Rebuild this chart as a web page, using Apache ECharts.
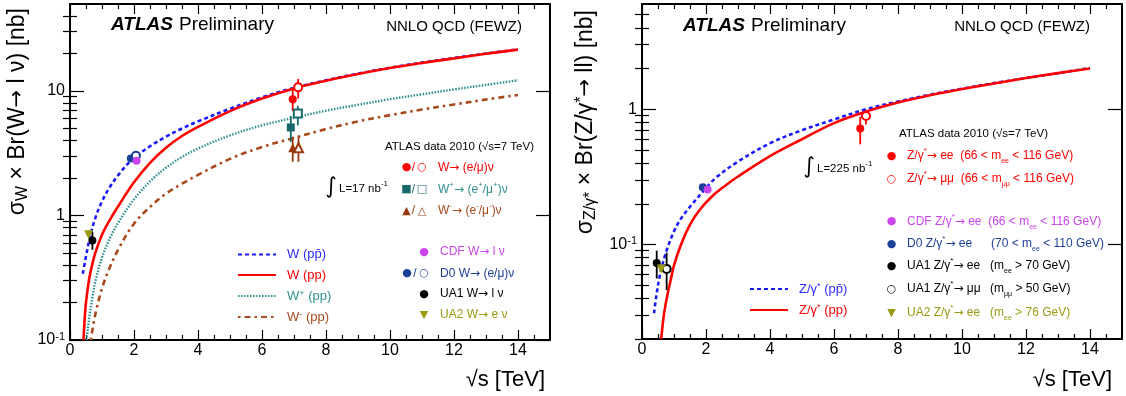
<!DOCTYPE html>
<html><head><meta charset="utf-8">
<script src="https://cdn.jsdelivr.net/npm/echarts@6/dist/echarts.min.js"></script>
<style>html,body{margin:0;padding:0;background:#fff}#c{width:1126px;height:396px}</style>
</head><body><div id="c"></div>
<script>
const FONT = '"Liberation Sans", Arial, Helvetica, sans-serif';
const MFONT = '"DejaVu Sans", sans-serif';

// ---------- Left panel: W cross sections (nb) vs sqrt(s) (TeV) ----------
const wPpbarRootS = [0.4,0.5,0.63,0.8,1.0,1.2,1.5,1.96,2.5,3.0,3.5,4.0,5.0,6.0,7.0,8,9,10,11,12,13,14];
const wPpbarSigma = [0.34,0.47,0.68,0.97,1.3,1.62,2.1,2.85,3.6,4.3,5.0,5.7,7.2,8.9,10.6,12.2,13.8,15.4,16.9,18.4,20.0,21.6];
const wPpRootS = [0.42,0.46,0.5,0.6,0.7,0.8,1.0,1.2,1.5,2.0,2.5,3.0,3.5,4.0,5.0,6.0,7.0,8,9,10,11,12,13,14];
const wPpSigma = [0.1,0.15,0.2,0.31,0.41,0.51,0.7,0.88,1.18,1.85,2.65,3.5,4.35,5.15,6.9,8.7,10.5,12.1,13.7,15.3,16.8,18.3,19.9,21.5];
const wPlusRootS = [0.52,0.56,0.6,0.7,0.8,1.0,1.25,1.5,2.0,2.5,3.0,3.5,4.0,5.0,6.0,7.0,8,9,10,11,12,13,14];
const wPlusSigma = [0.1,0.125,0.15,0.22,0.3,0.46,0.66,0.87,1.35,1.88,2.42,2.95,3.45,4.4,5.3,6.1,6.95,7.75,8.6,9.4,10.3,11.2,12.2];
const wMinusRootS = [0.65,0.7,0.75,0.83,1.0,1.2,1.5,2.0,2.5,3.0,3.5,4.0,5.0,6.0,7.0,8,9,10,11,12,13,14];
const wMinusSigma = [0.1,0.12,0.142,0.178,0.26,0.36,0.53,0.86,1.17,1.5,1.8,2.12,2.85,3.55,4.2,4.95,5.7,6.4,7.1,7.8,8.55,9.3];

// measurements: [sqrt(s), sigma, low, high]
const atlasWe   = [[6.96, 8.6, 6.9, 10.5]];
const atlasWmu  = [[7.13, 10.7, 8.7, 12.5]];
const atlasWpE  = [[6.9, 5.1, 3.9, 6.3]];
const atlasWpMu = [[7.12, 6.6, 5.3, 7.6]];
const atlasWmE  = [[6.96, 3.5, 2.7, 4.3]];
const atlasWmMu = [[7.14, 3.5, 2.7, 4.3]];
const cdfW   = [[2.08, 2.75]];
const d0We   = [[1.9, 2.87]];
const d0Wmu  = [[2.06, 3.02, 2.9, 3.15]];
const ua1W   = [[0.7, 0.63, 0.53, 0.74]];
const ua2W   = [[0.58, 0.70]];

// ---------- Right panel: Z/gamma* cross sections (nb) ----------
const zPpbarRootS = [0.375,0.45,0.575,0.7,0.8,1.0,1.2,1.5,1.9,2.3,3,4,5,6,7,8,9,10,11,12,13,14];
const zPpbarSigma = [0.031,0.042,0.062,0.08,0.095,0.125,0.153,0.19,0.245,0.31,0.41,0.56,0.7,0.84,1.0,1.14,1.28,1.42,1.56,1.7,1.85,2.02];
const zPpRootS = [0.6,0.65,0.7,0.8,0.9,1.0,1.22,1.5,1.8,2.2,2.6,3,4,5,6,7,8,9,10,11,12,13,14];
const zPpSigma = [0.02,0.026,0.032,0.043,0.055,0.07,0.1,0.14,0.18,0.228,0.272,0.318,0.45,0.6,0.79,0.96,1.12,1.27,1.41,1.55,1.7,1.85,2.0];

const atlasZee  = [[6.82, 0.72, 0.55, 0.88]];
const atlasZmm  = [[7.0, 0.89, 0.77, 0.99]];
const cdfZ      = [[2.05, 0.255]];
const d0Z       = [[1.9, 0.265]];
const ua1Zee    = [[0.46, 0.073, 0.056, 0.09]];
const ua1Zmm    = [[0.77, 0.066, 0.046, 0.087]];
const ua2Zee    = [[0.6, 0.066]];

// ---------- ticks ----------
const xMajorTicks = [0,2,4,6,8,10,12,14];
const xMinorTicks = [0.5,1,1.5,2.5,3,3.5,4.5,5,5.5,6.5,7,7.5,8.5,9,9.5,10.5,11,11.5,12.5,13,13.5,14.5];
const yLeftMajor = [0.1,1,10];
const yLeftMinor = [0.2,0.3,0.4,0.5,0.6,0.7,0.8,0.9,2,3,4,5,6,7,8,9,20,30,40];
const yRightMajor = [0.1,1];
const yRightMinor = [0.02,0.03,0.04,0.05,0.06,0.07,0.08,0.09,0.2,0.3,0.4,0.5,0.6,0.7,0.8,0.9,2,3,4,5];

const zip = (xs, ys) => xs.map((x, i) => [x, ys[i]]);

const C = {
  blue: '#1a1aff', red: '#ff0000', teal: '#2e8f8f', tealDark: '#17696b',
  brown: '#a8481c', brownDark: '#99380e', magenta: '#cc44ee', d0: '#1c3f9a',
  olive: '#9a9a10', black: '#000'
};

const tickStyle = {color: '#000', width: 1.2};
function axisSet(kind, grid, min, max, major, minor, fmt, majLen, minLen) {
  const pos = kind === 'x' ? ['bottom', 'top'] : ['left', 'right'];
  const base = {gridIndex: grid, type: kind === 'x' ? 'value' : 'log', min, max,
    splitLine: {show: false}, minorTick: {show: false}, silent: true};
  if (kind !== 'x') base.logBase = 10;
  const line = {show: true, onZero: false, lineStyle: {color: '#000', width: 2}};
  const label = kind === 'x'
    ? {show: true, customValues: major, formatter: fmt, margin: 3, color: '#000', fontFamily: FONT, fontSize: 16}
    : {show: true, customValues: major, formatter: fmt, margin: 5, color: '#000', fontFamily: FONT, fontSize: 16,
       rich: {b: {fontFamily: FONT, fontSize: 16, lineHeight: 18, color: '#000'},
              sup: {fontFamily: FONT, fontSize: 11, lineHeight: 6, verticalAlign: 'top', color: '#000'}}};
  return [
    Object.assign({}, base, {position: pos[0], axisLine: line,
      axisTick: {show: true, inside: true, length: majLen, customValues: major, lineStyle: tickStyle}, axisLabel: label}),
    Object.assign({}, base, {position: pos[0], axisLine: {show: false},
      axisTick: {show: true, inside: true, length: minLen, customValues: minor, lineStyle: tickStyle}, axisLabel: {show: false}}),
    Object.assign({}, base, {position: pos[1], axisLine: line,
      axisTick: {show: true, inside: true, length: majLen, customValues: major, lineStyle: tickStyle}, axisLabel: {show: false}}),
    Object.assign({}, base, {position: pos[1], axisLine: {show: false},
      axisTick: {show: true, inside: true, length: minLen, customValues: minor, lineStyle: tickStyle}, axisLabel: {show: false}})
  ];
}
const xFmt = v => String(Math.round(v));
const yFmt = v => {
  const e = Math.round(Math.log10(v));
  if (e === 0) return '{b|1}';
  if (e === 1) return '{b|10}';
  return '{b|10}{sup|' + e + '}';
};

function curve(name, grid, xs, ys, color, width, type, z) {
  return {name, type: 'line', xAxisIndex: grid * 4, yAxisIndex: grid * 4, data: zip(xs, ys),
    symbol: 'none', smooth: 0.35, clip: true, z: z || 2,
    lineStyle: {color, width, type}, itemStyle: {color}};
}
function points(grid, data, symbol, color, size, rotate) {
  const empty = symbol.indexOf('empty') === 0;
  return {type: 'scatter', xAxisIndex: grid * 4, yAxisIndex: grid * 4, data: data.map(d => [d[0], d[1]]),
    symbol, symbolSize: size || 8, symbolRotate: rotate || 0, z: 6,
    itemStyle: empty ? {color, borderColor: color, borderWidth: 1.5, opacity: 1} : {color, opacity: 1}};
}
function errBars(grid, data, color) {
  return {type: 'custom', xAxisIndex: grid * 4, yAxisIndex: grid * 4, z: 5, clip: true,
    data: data.filter(d => d.length > 2).map(d => [d[0], d[2], d[3]]),
    encode: {x: 0, y: [1, 2]}, itemStyle: {color},
    renderItem: (params, api) => {
      const x = api.value(0);
      const p1 = api.coord([x, api.value(1)]);
      const p2 = api.coord([x, api.value(2)]);
      return {type: 'line', shape: {x1: p1[0], y1: p1[1], x2: p2[0], y2: p2[1]},
        style: {stroke: color, lineWidth: 1.8}};
    }};
}

function mkRich(color, size) {
  return {
    n: {fill: color, fontFamily: FONT, fontSize: size, lineHeight: 18},
    ar: {fill: color, fontFamily: MFONT, fontSize: size, lineHeight: 18},
    sub: {fill: color, fontFamily: FONT, fontSize: Math.round(size * 0.62), lineHeight: 6, verticalAlign: 'bottom'},
    sup: {fill: color, fontFamily: FONT, fontSize: Math.round(size * 0.7), lineHeight: 7, verticalAlign: 'top'}
  };
}
function txt(x, y, text, o) {
  o = o || {};
  const color = o.color || '#000';
  const size = o.size || 12;
  return {type: 'text', x, y, silent: true, z: 100, rotation: o.rotation || 0,
    style: {text, fill: color, fontFamily: o.family || FONT, fontSize: size,
      fontWeight: o.weight || 'normal', fontStyle: o.fstyle || 'normal',
      align: o.align || 'left', verticalAlign: o.valign || 'middle',
      rich: o.rich || mkRich(color, size)}};
}
function mark(x, y, ch, color, size) {
  return txt(x, y, ch, {color, size: size || 11, family: MFONT, align: 'center', rich: {}});
}
function slash(x, y, color) { return txt(x, y, '/', {color, size: 12, align: 'center', rich: {}}); }

const titleRich = {
  g: {fill: '#000', fontFamily: FONT, fontSize: 23, lineHeight: 25},
  a: {fill: '#000', fontFamily: MFONT, fontSize: 21, lineHeight: 25},
  s: {fill: '#000', fontFamily: FONT, fontSize: 16, lineHeight: 8, verticalAlign: 'bottom'},
  p: {fill: '#000', fontFamily: FONT, fontSize: 16, lineHeight: 8, verticalAlign: 'top'}
};

const graphics = [
  // left panel
  txt(111, 25, 'ATLAS', {size: 19, weight: 'bold', fstyle: 'italic', rich: {}}),
  txt(179, 25, 'Preliminary', {size: 19, rich: {}}),
  txt(522, 27, 'NNLO QCD (FEWZ)', {size: 15, align: 'right', rich: {}}),
  txt(385, 147, 'ATLAS data 2010 (√s=7 TeV)', {size: 11.5, rich: {}}),
  mark(406.5, 167.5, '●', C.red), slash(413.5, 167.5, C.red), mark(422, 167.5, '○', C.red),
  txt(438, 167.5, '{n|W}{ar|→}{n| (e/μ)ν}', {color: C.red, size: 12}),
  mark(406.5, 189.5, '■', C.tealDark), slash(413.5, 189.5, C.tealDark), mark(422, 189.5, '□', C.tealDark),
  txt(438, 189.5, '{n|W}{sup|+}{ar|→}{n| (e}{sup|+}{n|/μ}{sup|+}{n|)ν}', {color: C.teal, size: 12}),
  mark(406.5, 211, '▲', C.brownDark), slash(413.5, 211, C.brownDark), mark(422, 211, '△', C.brownDark),
  txt(438, 211, '{n|W}{sup|-}{ar|→}{n| (e}{sup|-}{n|/μ}{sup|-}{n|)ν}', {color: C.brown, size: 12}),
  txt(331, 187, '∫', {size: 22, align: 'center', family: MFONT, rich: {}}),
  txt(339, 189, '{n|L=17 nb}{sup|-1}', {size: 11.5}),
  mark(424, 252, '●', C.magenta), txt(440, 252, '{n|CDF W}{ar|→}{n| l ν}', {color: C.magenta, size: 12}),
  mark(407, 273.5, '●', C.d0), slash(415, 273.5, C.d0), mark(424, 273.5, '○', C.d0),
  txt(440, 273.5, '{n|D0 W}{ar|→}{n| (e/μ)ν}', {color: C.d0, size: 12}),
  mark(424, 294, '●', C.black), txt(440, 294, '{n|UA1 W}{ar|→}{n| l ν}', {size: 12}),
  mark(424, 315, '▼', C.olive), txt(440, 315, '{n|UA2 W}{ar|→}{n| e ν}', {color: C.olive, size: 12}),
  txt(18, 8, '{g|σ}{s|W}{g| × Br(W}{a|→}{g| l ν) [nb]}', {rotation: Math.PI / 2, align: 'right', size: 23,
    rich: titleRich}),
  txt(545, 380, '√s [TeV]', {size: 22, align: 'right', rich: {}}),

  // right panel
  txt(683, 26, 'ATLAS', {size: 19, weight: 'bold', fstyle: 'italic', rich: {}}),
  txt(751, 26, 'Preliminary', {size: 19, rich: {}}),
  txt(1090, 27, 'NNLO QCD (FEWZ)', {size: 15, align: 'right', rich: {}}),
  txt(899, 134, 'ATLAS data 2010 (√s=7 TeV)', {size: 11.5, rich: {}}),
  mark(891.5, 156, '●', C.red),
  txt(907, 156, '{n|Z/γ}{sup|*}{ar|→}{n| ee  (66 < m}{sub|ee}{n| < 116 GeV)}', {color: C.red, size: 12}),
  mark(891.5, 179, '○', C.red),
  txt(907, 179, '{n|Z/γ}{sup|*}{ar|→}{n| μμ  (66 < m}{sub|μμ}{n| < 116 GeV)}', {color: C.red, size: 12}),
  txt(809, 167, '∫', {size: 22, align: 'center', family: MFONT, rich: {}}),
  txt(817, 169, '{n|L=225 nb}{sup|-1}', {size: 11.5}),
  mark(891.5, 221.5, '●', C.magenta),
  txt(907, 221.5, '{n|CDF Z/γ}{sup|*}{ar|→}{n| ee  (66 < m}{sub|ee}{n| < 116 GeV)}', {color: C.magenta, size: 12}),
  mark(891.5, 244, '●', C.d0),
  txt(907, 244, '{n|D0 Z/γ}{sup|*}{ar|→}{n| ee}', {color: C.d0, size: 12}),
  txt(991, 244, '{n|(70 < m}{sub|ee}{n| < 110 GeV)}', {color: C.d0, size: 12}),
  mark(891.5, 266, '●', C.black),
  txt(907, 266, '{n|UA1 Z/γ}{sup|*}{ar|→}{n| ee}', {size: 12}),
  txt(990, 266, '{n|(m}{sub|ee}{n| > 70 GeV)}', {size: 12}),
  mark(891.5, 289, '○', C.black),
  txt(907, 289, '{n|UA1 Z/γ}{sup|*}{ar|→}{n| μμ}', {size: 12}),
  txt(990, 289, '{n|(m}{sub|μμ}{n| > 50 GeV)}', {size: 12}),
  mark(891.5, 313, '▼', C.olive),
  txt(907, 313, '{n|UA2 Z/γ}{sup|*}{ar|→}{n| ee}', {color: C.olive, size: 12}),
  txt(990, 313, '{n|(m}{sub|ee}{n| > 76 GeV)}', {color: C.olive, size: 12}),
  txt(586, 10, '{g|σ}{s|Z/γ*}{g| × Br(Z/γ}{p|*}{a|→}{g| ll) [nb]}', {rotation: Math.PI / 2, align: 'right', size: 23,
    rich: titleRich}),
  txt(1112, 380, '√s [TeV]', {size: 22, align: 'right', rich: {}})
];

const legRich = {
  bl: {color: '#2b2bff', fontFamily: FONT, fontSize: 13, lineHeight: 14},
  blS: {color: '#2b2bff', fontFamily: FONT, fontSize: 9, lineHeight: 6, verticalAlign: 'top'},
  rd: {color: C.red, fontFamily: FONT, fontSize: 13, lineHeight: 14},
  rdS: {color: C.red, fontFamily: FONT, fontSize: 9, lineHeight: 6, verticalAlign: 'top'},
  te: {color: C.teal, fontFamily: FONT, fontSize: 13, lineHeight: 14},
  teS: {color: C.teal, fontFamily: FONT, fontSize: 9, lineHeight: 6, verticalAlign: 'top'},
  br: {color: C.brown, fontFamily: FONT, fontSize: 13, lineHeight: 14},
  brS: {color: C.brown, fontFamily: FONT, fontSize: 9, lineHeight: 6, verticalAlign: 'top'}
};
const legendText = {
  'W (pp̄)': '{bl|W (pp\u0304)}',
  'W (pp)': '{rd|W (pp)}',
  'W+ (pp)': '{te|W}{teS|+}{te| (pp)}',
  'W- (pp)': '{br|W}{brS|-}{br| (pp)}',
  'Z/γ* (pp̄)': '{bl|Z/γ}{blS|*}{bl| (pp\u0304)}',
  'Z/γ* (pp)': '{rd|Z/γ}{rdS|*}{rd| (pp)}'
};

const legendBase = {orient: 'vertical', itemWidth: 38, itemHeight: 14, itemGap: 7.5, padding: 0,
  selectedMode: false, itemStyle: {opacity: 0, borderWidth: 0},
  formatter: n => legendText[n] || n,
  textStyle: {fontFamily: FONT, fontSize: 13, padding: [0, 0, 0, 6], rich: legRich}};

const option = {
  animation: false,
  backgroundColor: '#fff',
  grid: [
    {left: 70, top: 4, width: 480, height: 336, containLabel: false, outerBoundsMode: 'none'},
    {left: 642, top: 4, width: 480, height: 335, containLabel: false, outerBoundsMode: 'none'}
  ],
  xAxis: [].concat(
    axisSet('x', 0, 0, 15, xMajorTicks, xMinorTicks, xFmt, 10, 5),
    axisSet('x', 1, 0, 15, xMajorTicks, xMinorTicks, xFmt, 10, 5)),
  yAxis: [].concat(
    axisSet('y', 0, 0.1, 50, yLeftMajor, yLeftMinor, yFmt, 14, 7),
    axisSet('y', 1, 0.02, 6, yRightMajor, yRightMinor, yFmt, 14, 7)),
  legend: [
    Object.assign({}, legendBase, {left: 237, top: 248,
      data: ['W (pp̄)', 'W (pp)', 'W+ (pp)', 'W- (pp)']}),
    Object.assign({}, legendBase, {left: 749, top: 282,
      data: ['Z/γ* (pp̄)', 'Z/γ* (pp)']})
  ],
  graphic: {elements: graphics},
  series: [
    curve('W (pp̄)', 0, wPpbarRootS, wPpbarSigma, C.blue, 2.6, [4, 3], 2),
    curve('W (pp)', 0, wPpRootS, wPpSigma, C.red, 2.6, 'solid', 3),
    curve('W+ (pp)', 0, wPlusRootS, wPlusSigma, C.teal, 2.4, [1.5, 1.5], 2),
    curve('W- (pp)', 0, wMinusRootS, wMinusSigma, C.brown, 2.6, [2.5, 4, 6, 4], 2),
    errBars(0, atlasWe, C.red), errBars(0, atlasWmu, C.red),
    errBars(0, atlasWpE, C.tealDark), errBars(0, atlasWpMu, C.tealDark),
    errBars(0, atlasWmE, C.brownDark), errBars(0, atlasWmMu, C.brownDark),
    errBars(0, d0Wmu, C.d0), errBars(0, ua1W, C.black),
    points(0, atlasWe, 'circle', C.red, 8), points(0, atlasWmu, 'emptyCircle', C.red, 8),
    points(0, atlasWpE, 'rect', C.tealDark, 8), points(0, atlasWpMu, 'emptyRect', C.tealDark, 8),
    points(0, atlasWmE, 'triangle', C.brownDark, 9), points(0, atlasWmMu, 'emptyTriangle', C.brownDark, 9),
    points(0, d0We, 'circle', C.d0, 8), points(0, d0Wmu, 'emptyCircle', C.d0, 8),
    points(0, cdfW, 'circle', C.magenta, 8),
    points(0, ua1W, 'circle', C.black, 8), points(0, ua2W, 'triangle', C.olive, 9, 180),

    curve('Z/γ* (pp̄)', 1, zPpbarRootS, zPpbarSigma, C.blue, 2.6, [4, 3], 2),
    curve('Z/γ* (pp)', 1, zPpRootS, zPpSigma, C.red, 2.6, 'solid', 3),
    errBars(1, atlasZee, C.red), errBars(1, atlasZmm, C.red),
    errBars(1, ua1Zee, C.black), errBars(1, ua1Zmm, C.black),
    points(1, atlasZee, 'circle', C.red, 8), points(1, atlasZmm, 'emptyCircle', C.red, 8),
    points(1, d0Z, 'circle', C.d0, 8), points(1, cdfZ, 'circle', C.magenta, 8),
    points(1, ua1Zee, 'circle', C.black, 8), points(1, ua1Zmm, 'emptyCircle', C.black, 8),
    points(1, ua2Zee, 'triangle', C.olive, 9, 180)
  ]
};
const chart = echarts.init(document.getElementById('c'), null, {renderer: 'canvas'});
chart.setOption(option);
</script></body></html>
